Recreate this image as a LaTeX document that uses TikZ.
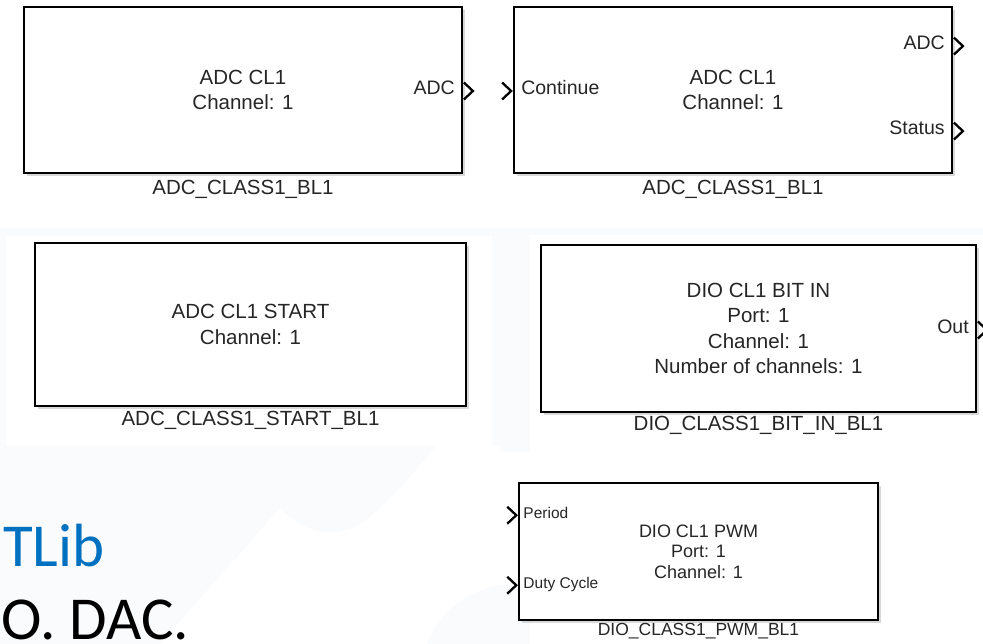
\documentclass[tikz,border=0pt]{standalone}
\usepackage{fontspec}
\setmainfont{Liberation Sans}
\newfontfamily\slidefont{Carlito}
\usetikzlibrary{positioning,calc,shadows}
\definecolor{slBlue}{HTML}{0070C0}
\definecolor{slTint}{HTML}{FAFBFD}
\definecolor{slInk} {HTML}{262626}
\newcommand{\outport}[1]{\draw[chev] (#1) ++(1,-8.5) -- ++(9,8.5) -- ++(-9,8.5);}
\newcommand{\inport}[1]{\draw[chev] (#1) ++(-11,-8.5) -- ++(9,8.5) -- ++(-9,8.5);}

\begin{document}
\begin{tikzpicture}[x=1pt,y=-1pt,
    blk/.style={draw,fill=white,line width=1.8pt,align=center,inner sep=0pt,text=slInk,
      font=\fontsize{20.5}{25.5}\selectfont,
      drop shadow={shadow xshift=3pt,shadow yshift=-3pt,fill=black!30}},
    portlbl/.style={font=\fontsize{19.5}{22}\selectfont,text=slInk,inner sep=0pt,
      text height=0.72em,text depth=0pt},
    caption/.style={font=\fontsize{20.5}{24}\selectfont,text=slInk,inner sep=0pt,
      text height=0.72em,text depth=0pt},
    chev/.style={line width=2.3pt,line join=miter},
    slide/.style={font=\slidefont\fontsize{61}{73}\selectfont,inner sep=0pt}]
  \useasboundingbox (0,0) rectangle (983,644);
  % slide background and pasted screenshots
  \fill[slTint] (0,0) rectangle (983,644);
  \fill[white] (160,644) -- (280,508) .. controls (300,528) and (315,532) .. (333,532)
    .. controls (355,532) and (375,520) .. (436,446) -- (500,446) -- (500,585)
    .. controls (470,590) and (440,610) .. (427,644) -- cycle;
  \fill[white] (0,0) rectangle (983,228) (6,236) rectangle (492,446)
    (530,235) rectangle (983,644) (500,452) rectangle (530,585);

  \node[slide,text=slBlue,anchor=base west] (libTxt) at (3,566) {TLib};
  \node[slide,text=black,anchor=base west] (ioTxt) at (1,639) {O. DAC.};

  % ADC CL1
  \node[blk,minimum width=438,minimum height=166] (adcBlk) at (243,90) {ADC CL1\\Channel: 1};
  \node[portlbl,anchor=east] (adcOut) at ($(adcBlk.east)+(-8,1)$) {ADC};
  \outport{adcBlk.east |- adcOut}
  \node[caption,below=13pt of adcBlk] (adcCap) {ADC\_CLASS1\_BL1};

  % ADC CL1 with continue input
  \node[blk,minimum width=438,minimum height=166] (adcContBlk) at (733,90) {ADC CL1\\Channel: 1};
  \node[portlbl,anchor=west] (contIn) at ($(adcContBlk.west)+(8,1)$) {Continue};
  \inport{adcContBlk.west |- contIn}
  \node[portlbl,anchor=east] (adcOut2) at ($(adcContBlk.north east)+(-8,40)$) {ADC};
  \node[portlbl,anchor=east] (statOut) at ($(adcContBlk.north east)+(-8,125)$) {Status};
  \outport{adcContBlk.east |- adcOut2}
  \outport{adcContBlk.east |- statOut}
  \node[caption,below=13pt of adcContBlk] (adcContCap) {ADC\_CLASS1\_BL1};

  % ADC start
  \node[blk,minimum width=431,minimum height=163] (adcStartBlk) at (250.5,324.5) {ADC CL1 START\\Channel: 1};
  \node[caption,below=11pt of adcStartBlk] (adcStartCap) {ADC\_CLASS1\_START\_BL1};

  % DIO bit in
  \node[blk,minimum width=435,minimum height=167] (dioInBlk) at (758.5,328.5)
    {DIO CL1 BIT IN\\Port: 1\\Channel: 1\\Number of channels: 1};
  \node[portlbl,anchor=east] (dioOut) at ($(dioInBlk.east)+(-8,1.5)$) {Out};
  \outport{dioInBlk.east |- dioOut}
  \node[caption,below=10pt of dioInBlk] (dioInCap) {DIO\_CLASS1\_BIT\_IN\_BL1};

  % DIO PWM (smaller screenshot)
  \node[blk,line width=1.5pt,font=\fontsize{18}{20.5}\selectfont,
    minimum width=359,minimum height=137] (dioPwmBlk) at (698.5,551.5)
    {DIO CL1 PWM\\Port: 1\\Channel: 1};
  \node[portlbl,font=\fontsize{15.5}{18}\selectfont,anchor=west] (perIn) at ($(dioPwmBlk.north west)+(5,33)$) {Period};
  \node[portlbl,font=\fontsize{15.5}{18}\selectfont,anchor=west] (dutyIn) at ($(dioPwmBlk.north west)+(5,103)$) {Duty Cycle};
  \inport{dioPwmBlk.west |- perIn}
  \inport{dioPwmBlk.west |- dutyIn}
  \node[caption,font=\fontsize{17.5}{20}\selectfont,below=7pt of dioPwmBlk] (dioPwmCap) {DIO\_CLASS1\_PWM\_BL1};
\end{tikzpicture}
\end{document}
